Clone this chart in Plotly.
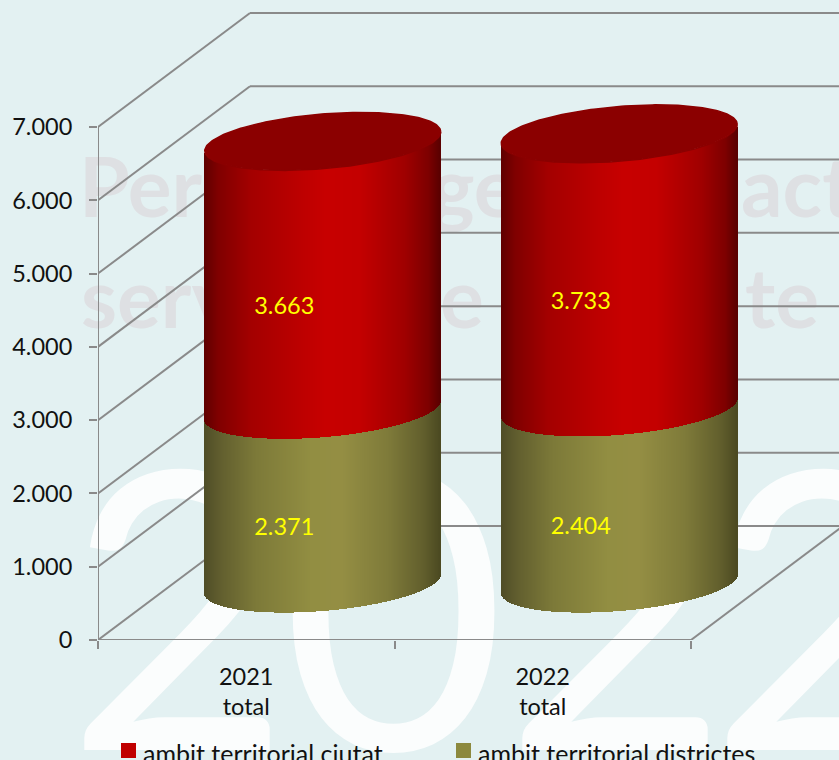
import numpy as np
import plotly.graph_objects as go

# ---- data ----
years = ["2021<br>total", "2022<br>total"]
districtes = [2371, 2404]
ciutat = [3663, 3733]
district_labels = ["2.371", "2.404"]
ciutat_labels = ["3.663", "3.733"]
y_ticks = [0, 1000, 2000, 3000, 4000, 5000, 6000, 7000]
y_tick_labels = ["0", "1.000", "2.000", "3.000", "4.000", "5.000", "6.000", "7.000"]
series_names = ["ambit territorial ciutat", "ambit territorial districtes"]

# ---- page geometry (px) ----
W, H = 839, 760
L, B = 98, 120           # margins, so that the axes sit where the reference has them
PW, PH = W - L, H - B
PX_PER_CAT = 296.5
PX_PER_VAL = 513 / 7000
X0 = -0.5
X1 = X0 + PW / PX_PER_CAT
Y1 = PH / PX_PER_VAL
dxu = 1 / PX_PER_CAT
dyu = 1 / PX_PER_VAL
DEPTH_X, DEPTH_Y = 152 * dxu, 114 * dyu   # oblique projection of the chart depth

BG = "#E3F1F2"
GRID = "#8A8A8A"
FONT = "Lato"
FS = 23.5

# cylinder shape
A_PX, TILT_PX, B_PX = 118, 9.5, 27.4
A, TILT, BB = A_PX * dxu, TILT_PX * dyu, B_PX * dyu
CX_DEPTH = 76.5 * dxu
FLOOR = 56.4 * dyu


def hex2rgb(h):
    return np.array([int(h[i:i + 2], 16) for i in (1, 3, 5)], float)


def ramp(stops, t):
    pos = [s[0] for s in stops]
    cols = np.array([hex2rgb(s[1]) for s in stops])
    return [f"rgb({int(np.interp(v, pos, cols[:,0]))},{int(np.interp(v, pos, cols[:,1]))},{int(np.interp(v, pos, cols[:,2]))})" for v in t]


RED = [(0, "#5F0000"), (.06, "#800000"), (.2, "#A40000"), (.42, "#BE0000"), (.52, "#C80000"),
       (.66, "#C40000"), (.85, "#A00000"), (.95, "#7E0000"), (1, "#5A0000")]
OLIVE = [(0, "#4F4D27"), (.07, "#625F2F"), (.22, "#7D7A39"), (.45, "#928E42"), (.58, "#958F44"),
         (.78, "#7F7B3A"), (.93, "#625F2D"), (1, "#4C4A22")]
CAP = "#8B0000"

t = (np.arange(236) + 0.5) / 236
u = 2 * t - 1
front = TILT * u - BB * np.sqrt(1 - u ** 2)   # front arc of an ellipse, in value units
red_cols = ramp(RED, t)
olive_cols = ramp(OLIVE, t)


def paper_x(px):
    return (px - L) / PW


def paper_y(py):
    return (H - B - py) / PH


shapes = []


def watermark(text, px, baseline, size, color, font=FONT, weight=400):
    top = baseline - size
    shapes.append(dict(
        type="rect", xref="paper", yref="paper", layer="below",
        x0=paper_x(px), x1=paper_x(px + 10), y0=paper_y(baseline + size * 0.25), y1=paper_y(top),
        line=dict(width=0), fillcolor="rgba(0,0,0,0)",
        label=dict(text=text, textposition="middle left", padding=0,
                   font=dict(family=font, size=size, color=color, weight=weight))))


# faint page background of the reference
for txt, x in [("2", 63), ("0", 278), ("2", 501), ("2", 706)]:
    watermark(txt, x, 740.5, 388, "#FBFDFD")
for txt, x, base in [("Percentatge", 76, 215), ("act", 738, 215), ("serv", 78, 326), ("e", 437, 326), ("te", 742, 326)]:
    watermark(txt, x, base, 82, "#DEE0E3", weight=700)


def seg(x0, y0, x1, y1):
    shapes.append(dict(type="line", layer="below", xref="x", yref="y", x0=x0, y0=y0, x1=x1, y1=y1,
                       line=dict(color=GRID, width=2)))


for v in y_ticks:
    seg(X0, v, X0 + DEPTH_X, v + DEPTH_Y)
    seg(X0 + DEPTH_X, v + DEPTH_Y, 1.5 + DEPTH_X, v + DEPTH_Y)
seg(X0, 0, X0, max(y_ticks))
seg(X0, 0, 1.5, 0)
seg(1.5, 0, 1.5 + DEPTH_X, DEPTH_Y)

fig = go.Figure()

# stacked cylinders, drawn as thin vertical strips so the shading can follow the surface
for name, values, below, cols in [
    (series_names[1], districtes, [0, 0], olive_cols),
    (series_names[0], ciutat, districtes, red_cols),
]:
    xs, bases, heights, colors = [], [], [], []
    for i, (v, b) in enumerate(zip(values, below)):
        cx = i + CX_DEPTH
        xs.extend(cx + u * A)
        bases.extend(FLOOR + b + front)
        heights.extend([v] * len(u))
        colors.extend(cols)
    fig.add_trace(go.Bar(x=xs, y=heights, base=bases, width=1.4 * dxu, name=name, showlegend=False,
                         marker=dict(color=colors, line=dict(width=0)), hoverinfo="skip"))

# top caps
th = np.linspace(0, 2 * np.pi, 240)
for i in range(len(years)):
    top = FLOOR + districtes[i] + ciutat[i]
    fig.add_trace(go.Scatter(x=i + CX_DEPTH + A * np.cos(th),
                             y=top + TILT * np.cos(th) + BB * np.sin(th),
                             mode="lines", fill="toself", fillcolor=CAP, line=dict(width=1.5, color=CAP),
                             showlegend=False, hoverinfo="skip"))

# value labels
LAB_LIFT = 24 * dyu
lab_x, lab_y, lab_t = [], [], []
for i in range(len(years)):
    lab_x += [i + 38 * dxu, i + 38 * dxu]
    lab_y += [districtes[i] / 2 + LAB_LIFT, districtes[i] + ciutat[i] / 2 + LAB_LIFT]
    lab_t += [district_labels[i], ciutat_labels[i]]
fig.add_trace(go.Scatter(x=lab_x, y=lab_y, text=lab_t, mode="text", showlegend=False, hoverinfo="skip",
                         textfont=dict(family=FONT, size=FS, color="#FFFF00")))

# legend
legend_pos = [(121, 141, "#C00000"), (456, 476, "#8C893E")]
annotations = []
for (sq, tx, col), name in zip(legend_pos, series_names):
    shapes.append(dict(type="rect", xref="paper", yref="paper", layer="above",
                       x0=paper_x(sq), x1=paper_x(sq + 15), y0=paper_y(758), y1=paper_y(743),
                       fillcolor=col, line=dict(width=0)))
    annotations.append(dict(text=name, xref="paper", yref="paper", x=paper_x(tx), y=paper_y(753),
                            xanchor="left", yanchor="middle", showarrow=False,
                            font=dict(family=FONT, size=25, color="#111111")))

fig.update_layout(
    width=W, height=H, paper_bgcolor=BG, plot_bgcolor="rgba(0,0,0,0)",
    margin=dict(l=L, r=0, t=0, b=B, autoexpand=False),
    barmode="overlay", bargap=0, showlegend=False,
    font=dict(family=FONT, size=FS, color="#111111"),
    shapes=shapes, annotations=annotations,
    xaxis=dict(range=[X0, X1], tickmode="array", tickvals=[0, 1], ticktext=years, ticks="",
               ticklen=0, ticklabelstandoff=20, showgrid=False, zeroline=False, showline=False,
               minor=dict(tickmode="array", tickvals=[-0.5, 0.5, 1.5], ticks="outside", ticklen=8,
                          tickwidth=2, tickcolor=GRID, showgrid=False),
               tickfont=dict(family=FONT, size=FS, color="#111111")),
    yaxis=dict(range=[0, Y1], tickmode="array", tickvals=y_ticks, ticktext=y_tick_labels, ticks="outside",
               ticklen=8, tickwidth=2, tickcolor=GRID, ticklabelstandoff=12, showgrid=False,
               zeroline=False, showline=False, tickfont=dict(family=FONT, size=FS, color="#111111")),
)

fig.write_html("out.html", config=dict(displayModeBar=False),
               post_script="document.body.style.margin='0';document.body.style.overflow='hidden';")
